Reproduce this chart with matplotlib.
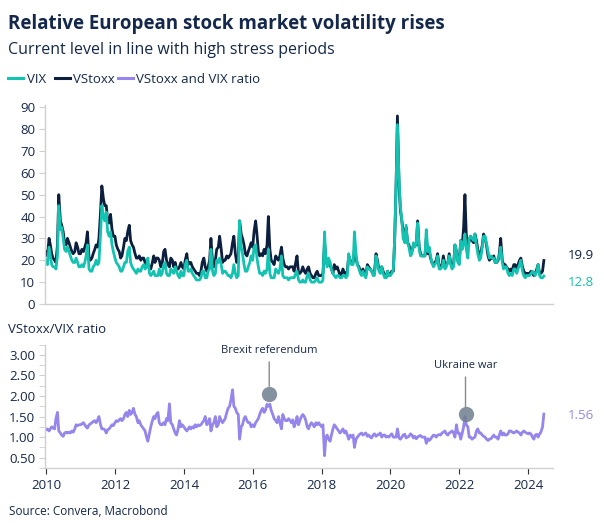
import numpy as np
import pandas as pd
import matplotlib
matplotlib.use("Agg")
import matplotlib.pyplot as plt
import matplotlib.dates as mdates
from matplotlib.lines import Line2D
from matplotlib.ticker import MultipleLocator, FormatStrFormatter

# ---------------- data (semi-monthly readings, Jan 2010 - mid Jun 2024) ----------------
vix_2010 = [20, 18, 26, 22, 18, 17, 17, 16, 22, 45, 34, 35, 30, 25, 24, 26, 24, 22, 20, 19, 19, 21, 19, 17]
vix_2011 = [17, 18, 17, 19, 22, 27, 16, 15, 15, 17, 18, 20, 18, 19, 32, 45, 40, 38, 42, 33, 31, 33, 27, 24]
vix_2012 = [21, 19, 18, 17, 15, 15, 17, 19, 19, 24, 26, 19, 17, 16, 15, 14, 16, 15, 15, 17, 18, 16, 17, 21]
vix_2013 = [14, 13, 14, 15, 13, 13, 13, 16, 13, 14, 18, 19, 14, 13, 13, 16, 15, 14, 17, 15, 13, 12, 15, 13]
vix_2014 = [13, 18, 20, 15, 15, 16, 14, 13, 12, 11, 11, 11, 12, 15, 15, 12, 12, 15, 16, 25, 15, 13, 14, 20]
vix_2015 = [19, 21, 18, 14, 15, 15, 14, 13, 13, 12, 14, 18, 14, 12, 13, 38, 26, 23, 18, 15, 15, 17, 19, 22]
vix_2016 = [20, 26, 27, 21, 17, 14, 14, 13, 15, 14, 16, 25, 14, 12, 12, 12, 16, 15, 14, 16, 22, 13, 12, 12]
vix_2017 = [12, 11, 12, 12, 12, 12, 14, 15, 11, 10, 10, 11, 10, 10, 13, 14, 11, 10, 10, 10, 11, 12, 10, 10]
vix_2018 = [10, 11, 33, 20, 17, 21, 19, 16, 14, 13, 12, 13, 13, 12, 12, 13, 13, 12, 13, 23, 19, 18, 18, 33]
vix_2019 = [23, 18, 16, 14, 13, 15, 13, 12, 17, 16, 16, 15, 13, 13, 22, 19, 15, 14, 17, 14, 12, 12, 15, 13]
vix_2020 = [13, 14, 16, 30, 55, 82, 57, 45, 38, 30, 28, 36, 28, 26, 22, 23, 28, 26, 28, 37, 25, 22, 22, 22]
vix_2021 = [22, 34, 24, 26, 22, 19, 17, 18, 19, 22, 16, 16, 17, 20, 16, 17, 19, 22, 18, 16, 17, 27, 24, 19]
vix_2022 = [18, 29, 25, 28, 32, 25, 21, 30, 31, 30, 29, 32, 27, 23, 20, 21, 26, 31, 31, 28, 24, 21, 22, 21]
vix_2023 = [21, 19, 19, 21, 22, 26, 19, 16, 17, 17, 14, 13, 14, 13, 16, 16, 14, 16, 18, 20, 15, 13, 12, 13]
vix_2024 = [13, 13, 14, 15, 14, 13, 15, 18, 13, 12, 12, 12.8]

vstoxx_2010 = [24, 22, 30, 27, 23, 21, 20, 19, 27, 50, 38, 36, 33, 28, 27, 30, 28, 26, 24, 23, 24, 28, 26, 23]
vstoxx_2011 = [23, 25, 24, 26, 28, 33, 21, 20, 21, 23, 25, 27, 26, 30, 42, 54, 48, 45, 45, 38, 37, 41, 34, 31]
vstoxx_2012 = [31, 27, 25, 24, 21, 22, 26, 30, 29, 33, 36, 29, 27, 26, 23, 21, 21, 22, 20, 21, 21, 19, 18, 17]
vstoxx_2013 = [17, 16, 19, 22, 19, 21, 21, 20, 17, 18, 24, 25, 20, 18, 17, 21, 20, 17, 19, 16, 16, 17, 19, 17]
vstoxx_2014 = [16, 20, 23, 18, 19, 19, 17, 16, 15, 14, 14, 13, 15, 19, 21, 17, 15, 17, 20, 30, 19, 17, 20, 25]
vstoxx_2015 = [26, 31, 25, 19, 20, 20, 22, 21, 22, 23, 28, 31, 23, 19, 21, 38, 32, 30, 27, 23, 22, 24, 26, 28]
vstoxx_2016 = [26, 33, 38, 32, 24, 22, 23, 22, 25, 23, 27, 40, 25, 20, 19, 18, 22, 21, 20, 22, 26, 21, 18, 17]
vstoxx_2017 = [17, 16, 17, 17, 17, 15, 19, 22, 14, 14, 15, 17, 15, 14, 16, 17, 14, 13, 12, 12, 14, 15, 13, 13]
vstoxx_2018 = [13, 14, 28, 21, 18, 19, 18, 16, 14, 18, 16, 17, 15, 13, 14, 16, 14, 14, 15, 22, 20, 19, 19, 25]
vstoxx_2019 = [21, 18, 17, 15, 14, 16, 14, 13, 18, 17, 16, 15, 14, 14, 23, 20, 16, 15, 17, 15, 13, 12, 15, 13]
vstoxx_2020 = [14, 15, 15, 30, 55, 86, 55, 43, 38, 33, 30, 35, 28, 27, 24, 24, 27, 27, 27, 38, 26, 23, 22, 22]
vstoxx_2021 = [22, 30, 23, 24, 21, 19, 18, 19, 20, 23, 17, 17, 18, 22, 18, 18, 19, 23, 19, 17, 18, 27, 24, 20]
vstoxx_2022 = [20, 29, 27, 35, 50, 32, 26, 29, 31, 29, 28, 32, 29, 25, 22, 23, 27, 32, 30, 27, 22, 20, 21, 21]
vstoxx_2023 = [22, 19, 19, 20, 23, 30, 20, 18, 18, 17, 16, 15, 16, 15, 18, 18, 16, 18, 20, 21, 17, 15, 14, 14]
vstoxx_2024 = [14, 14, 15, 14, 13, 14, 16, 18, 14, 14, 15, 19.9]

ratio_2010 = [1.18, 1.2, 1.15, 1.2, 1.25, 1.22, 1.2, 1.45, 1.6, 1.15, 1.1, 1.05, 1.02, 1.1, 1.12, 1.1, 1.12, 1.1, 1.15, 1.12, 1.2, 1.3, 1.28, 1.3]
ratio_2011 = [1.3, 1.32, 1.35, 1.3, 1.25, 1.22, 1.3, 1.32, 1.35, 1.38, 1.4, 1.35, 1.42, 1.5, 1.3, 1.2, 1.2, 1.18, 1.1, 1.18, 1.2, 1.25, 1.3, 1.28]
ratio_2012 = [1.35, 1.4, 1.38, 1.42, 1.45, 1.4, 1.45, 1.55, 1.6, 1.5, 1.65, 1.55, 1.6, 1.7, 1.55, 1.5, 1.35, 1.4, 1.3, 1.25, 1.2, 1.15, 1.0, 0.9]
ratio_2013 = [1.1, 1.25, 1.4, 1.5, 1.45, 1.55, 1.6, 1.35, 1.3, 1.3, 1.35, 1.3, 1.45, 1.4, 1.81, 1.35, 1.3, 1.2, 1.1, 1.05, 1.2, 1.4, 1.25, 1.3]
ratio_2014 = [1.25, 1.2, 1.15, 1.2, 1.25, 1.2, 1.25, 1.22, 1.3, 1.25, 1.3, 1.28, 1.3, 1.35, 1.4, 1.5, 1.3, 1.35, 1.45, 1.15, 1.3, 1.35, 1.5, 1.25]
ratio_2015 = [1.3, 1.5, 1.4, 1.35, 1.4, 1.45, 1.6, 1.7, 1.75, 1.9, 2.15, 1.75, 1.7, 1.6, 1.55, 0.95, 1.25, 1.3, 1.45, 1.5, 1.4, 1.35, 1.35, 1.25]
ratio_2016 = [1.3, 1.25, 1.35, 1.4, 1.45, 1.55, 1.65, 1.7, 1.6, 1.65, 1.8, 1.75, 1.8, 1.65, 1.55, 1.45, 1.4, 1.35, 1.5, 1.35, 1.2, 1.55, 1.45, 1.4]
ratio_2017 = [1.4, 1.45, 1.4, 1.35, 1.42, 1.25, 1.35, 1.5, 1.3, 1.4, 1.5, 1.55, 1.5, 1.42, 1.25, 1.2, 1.3, 1.35, 1.3, 1.25, 1.35, 1.3, 1.35, 1.3]
ratio_2018 = [1.25, 1.3, 0.55, 1.0, 1.05, 0.95, 0.9, 1.05, 1.2, 1.3, 1.25, 1.2, 1.15, 1.1, 1.15, 1.2, 1.1, 1.15, 1.05, 0.95, 1.05, 1.0, 1.05, 0.75]
ratio_2019 = [0.95, 1.0, 1.05, 1.08, 1.1, 1.05, 1.08, 1.1, 1.02, 1.05, 1.0, 0.98, 1.05, 1.08, 1.02, 1.05, 1.07, 1.1, 1.0, 1.05, 1.05, 1.0, 1.02, 1.0]
ratio_2020 = [1.05, 1.08, 1.0, 1.0, 1.0, 1.2, 0.98, 0.95, 1.0, 1.05, 1.07, 0.98, 1.0, 1.02, 1.08, 1.05, 0.98, 1.02, 0.96, 1.0, 1.03, 1.04, 1.0, 1.0]
ratio_2021 = [1.0, 0.85, 0.96, 0.92, 0.95, 1.0, 1.05, 1.04, 1.0, 1.05, 1.06, 1.05, 1.1, 1.12, 1.15, 1.08, 1.05, 1.1, 1.12, 1.15, 1.1, 1.0, 1.3, 1.1]
ratio_2022 = [1.1, 0.95, 1.1, 1.25, 1.5, 1.3, 1.25, 1.0, 1.0, 0.95, 0.98, 1.0, 1.15, 1.2, 1.1, 1.1, 1.05, 1.02, 1.0, 0.95, 0.92, 0.95, 0.96, 1.0]
ratio_2023 = [1.05, 1.0, 1.0, 0.95, 1.05, 1.15, 1.05, 1.1, 1.05, 1.05, 1.08, 1.15, 1.15, 1.12, 1.1, 1.12, 1.15, 1.12, 1.1, 1.05, 1.12, 1.15, 1.12, 1.1]
ratio_2024 = [1.08, 1.1, 1.07, 1.0, 0.95, 1.05, 1.07, 1.0, 1.08, 1.12, 1.25, 1.56]

vix = sum([vix_2010, vix_2011, vix_2012, vix_2013, vix_2014, vix_2015, vix_2016, vix_2017,
           vix_2018, vix_2019, vix_2020, vix_2021, vix_2022, vix_2023, vix_2024], [])
vstoxx = sum([vstoxx_2010, vstoxx_2011, vstoxx_2012, vstoxx_2013, vstoxx_2014, vstoxx_2015,
              vstoxx_2016, vstoxx_2017, vstoxx_2018, vstoxx_2019, vstoxx_2020, vstoxx_2021,
              vstoxx_2022, vstoxx_2023, vstoxx_2024], [])
ratio = sum([ratio_2010, ratio_2011, ratio_2012, ratio_2013, ratio_2014, ratio_2015, ratio_2016,
             ratio_2017, ratio_2018, ratio_2019, ratio_2020, ratio_2021, ratio_2022, ratio_2023,
             ratio_2024], [])
dates = pd.date_range("2010-01-01", periods=len(vix), freq="SMS")

events = ["Brexit referendum", "Ukraine war"]
event_dates = [pd.Timestamp("2016-06-24"), pd.Timestamp("2022-03-07")]
event_values = [2.05, 1.55]

last_labels = ["19.9", "12.8", "1.56"]

# ---------------- style ----------------
TEAL = "#11C3B0"
NAVY = "#0C1F3F"
PURPLE = "#9685EC"
TXT = "#14284B"
GRID = "#D0D0D0"
FONT = "Open Sans"
plt.rcParams["font.family"] = [FONT, "DejaVu Sans"]

W, H = 604, 529
fig = plt.figure(figsize=(W / 100, H / 100), dpi=100)


def fx(px):
    return px / W


def fy(py):
    return 1 - py / H


ax1 = fig.add_axes([fx(45), fy(304), fx(553) - fx(45), fy(105) - fy(304)])
ax2 = fig.add_axes([fx(45), fy(468), fx(553) - fx(45), fy(344.5) - fy(468)])

xmin, xmax = pd.Timestamp("2009-12-20"), pd.Timestamp("2024-09-20")

# top panel
ax1.plot(dates, vstoxx, color=NAVY, lw=2.0, solid_joinstyle="round")
ax1.plot(dates, vix, color=TEAL, lw=2.0, solid_joinstyle="round")
ax1.set_xlim(xmin, xmax)
ax1.set_ylim(0, 91)
ax1.yaxis.set_major_locator(MultipleLocator(10))
ax1.set_xticks([])

# bottom panel
ax2.plot(dates, ratio, color=PURPLE, lw=2.0, solid_joinstyle="round")
ax2.set_xlim(xmin, xmax)
ax2.set_ylim(0.25, 3.25)
ax2.yaxis.set_major_locator(MultipleLocator(0.5))
ax2.yaxis.set_minor_locator(MultipleLocator(0.25))
ax2.yaxis.set_major_formatter(FormatStrFormatter("%.2f"))
ax2.xaxis.set_major_locator(mdates.YearLocator(2))
ax2.xaxis.set_major_formatter(mdates.DateFormatter("%Y"))

for ax in (ax1, ax2):
    for s in ("top", "right"):
        ax.spines[s].set_visible(False)
    ax.spines["left"].set_color(GRID)
    ax.spines["bottom"].set_color(GRID)
    ax.spines["left"].set_linewidth(1.0)
    ax.spines["bottom"].set_linewidth(1.0)
    ax.tick_params(axis="y", which="both", length=4, color=GRID, labelcolor=TXT,
                   labelsize=9.5, pad=3)
ax2.tick_params(axis="x", length=4, color="#333333", labelcolor=TXT, labelsize=9.5, pad=4)

# event annotations
for name, d, v, off in zip(events, event_dates, event_values, [27, 31]):
    ax2.plot([d], [v], "o", ms=11, mfc="#6F7F8E", mec="none", alpha=0.85, zorder=5)
    ax2.annotate(name, xy=(d, v), xytext=(0, off), textcoords="offset points",
                 ha="center", va="bottom", fontsize=8, color=TXT,
                 arrowprops=dict(arrowstyle="-", color="#8A8A8A", lw=1.0,
                                 shrinkA=2, shrinkB=5.5))

# end-value labels
ax1.annotate(last_labels[0], xy=(1.03, 22), xycoords=("axes fraction", "data"),
             fontsize=9.5, color=NAVY, va="center", ha="left")
ax1.annotate(last_labels[1], xy=(1.03, 10), xycoords=("axes fraction", "data"),
             fontsize=9.5, color=TEAL, va="center", ha="left")
ax2.annotate(last_labels[2], xy=(1.03, 1.53), xycoords=("axes fraction", "data"),
             fontsize=9.5, color=PURPLE, va="center", ha="left")

# titles
fig.text(fx(8), fy(29.5), "Relative European stock market volatility rises",
         fontsize=13.5, fontweight="bold", color=TXT, va="baseline", ha="left")
fig.text(fx(8), fy(54), "Current level in line with high stress periods",
         fontsize=11.5, color=TXT, va="baseline", ha="left")
fig.text(fx(8), fy(333), "VStoxx/VIX ratio", fontsize=9.5, color=TXT,
         va="baseline", ha="left")
fig.text(fx(9), fy(515), "Source: Convera, Macrobond", fontsize=8.5, color=TXT,
         va="baseline", ha="left")

# legend (manual)
legend_items = [("VIX", TEAL, 8, 27), ("VStoxx", NAVY, 55, 73), ("VStoxx and VIX ratio", PURPLE, 118, 136)]
for label, col, x0, xt in legend_items:
    fig.add_artist(Line2D([fx(x0), fx(x0 + 15)], [fy(78), fy(78)], color=col, lw=2.2,
                          transform=fig.transFigure))
    fig.text(fx(xt), fy(83), label, fontsize=9.5, color=TXT, va="baseline", ha="left")

fig.savefig("out.png", dpi=100)
